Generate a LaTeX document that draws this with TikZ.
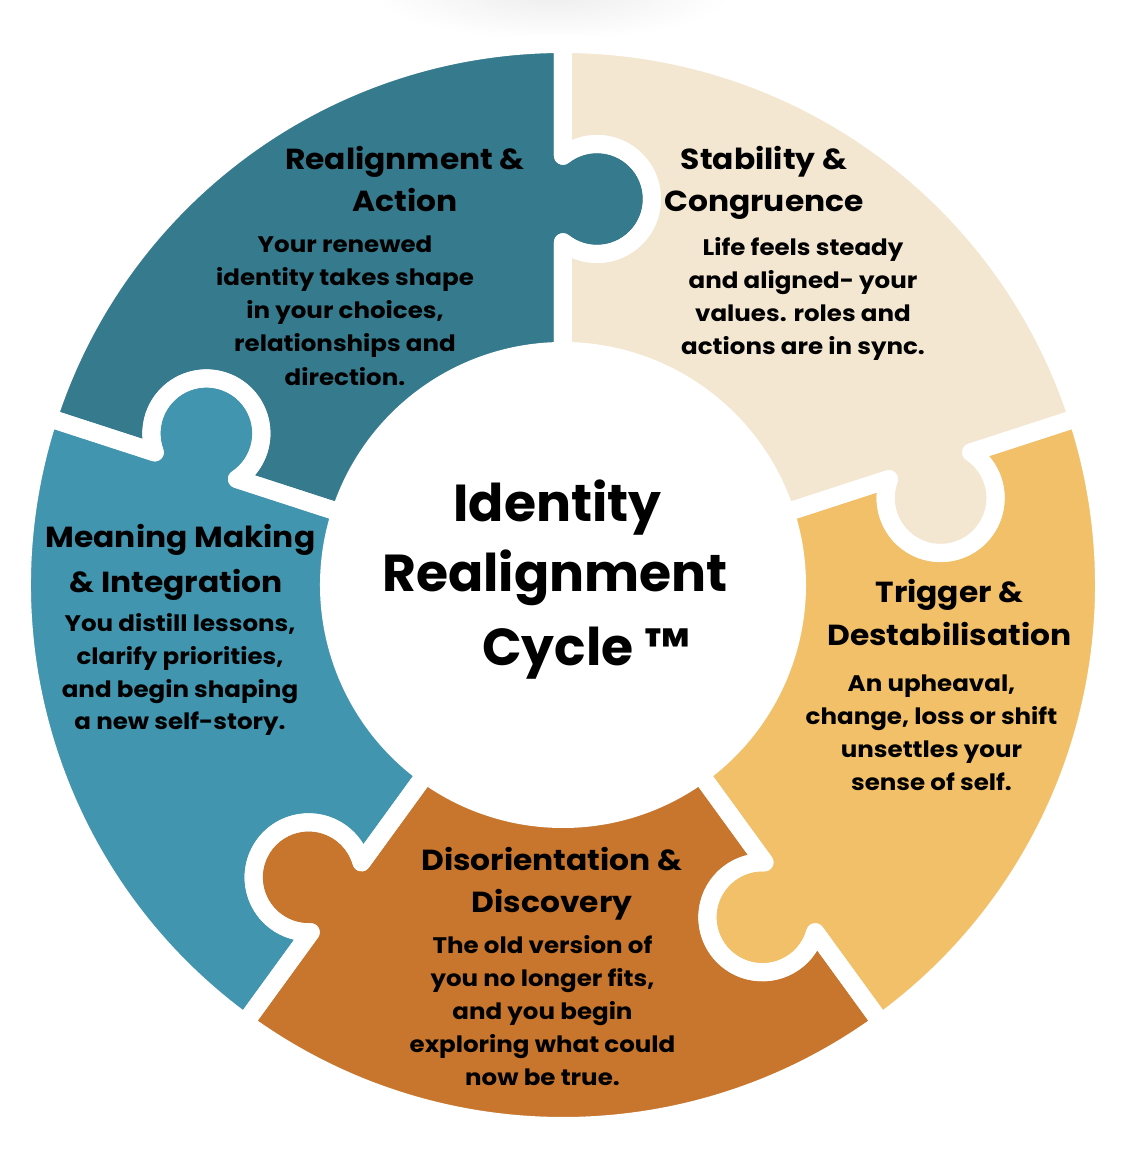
\documentclass[tikz,border=0pt]{standalone}
\usepackage{fontspec}
\setmainfont{Poppins}
\newfontfamily\headfont{Poppins}[FakeStretch=1.08]
\newfontfamily\bodyfont{Poppins}[FakeStretch=1.09]
\definecolor{cTeal}{HTML}{367A8E}
\definecolor{cBlue}{HTML}{4295AF}
\definecolor{cCream}{HTML}{F4E7D2}
\definecolor{cYellow}{HTML}{F3C06A}
\definecolor{cOrange}{HTML}{C8762D}
\def\ri{234}
\def\ro{541}
\def\rlo{342.77}
\def\rhi{429.23}
\def\Rk{55}
\newcommand\piecepath[1]{(#1:\ri) -- (#1:\rlo) arc[start angle=#1+141.82, end angle=#1+398.18, radius=\Rk] -- (#1:\ro) arc[start angle=#1, end angle=#1+72, radius=\ro] -- (#1+72:\rhi) arc[start angle=#1+110.18, end angle=#1-146.18, radius=\Rk] -- (#1+72:\ri) arc[start angle=#1+72, end angle=#1, radius=\ri] -- cycle}
\tikzset{
  pieceedge/.style={draw=white, line width=18pt, line join=round},
  head/.style={font=\headfont\bfseries\fontsize{29}{34}\selectfont, inner sep=0pt, anchor=base, text=black},
  body/.style={font=\bodyfont\bfseries\fontsize{22.5}{26}\selectfont, inner sep=0pt, anchor=base, text=black},
  bigtitle/.style={font=\bfseries\fontsize{52}{60}\selectfont, inner sep=0pt, anchor=base, text=black},
}
\begin{document}
\begin{tikzpicture}[x=1pt,y=1pt]
\useasboundingbox (-563,-583) rectangle (573,585);
\fill[white] (-563,-583) rectangle (573,585);
% soft shadow at top
\shade[inner color=black!7, outer color=white] (-10,592) ellipse [x radius=180, y radius=46];
% pieces
\fill[cOrange] \piecepath{-126};
\fill[cYellow] \piecepath{-54};
\fill[cCream] \piecepath{18};
\fill[cTeal] \piecepath{90};
\fill[cBlue] \piecepath{162};
\draw[pieceedge] \piecepath{-126};
\draw[pieceedge] \piecepath{-54};
\draw[pieceedge] \piecepath{18};
\draw[pieceedge] \piecepath{90};
\draw[pieceedge] \piecepath{162};
% centre title
\node[bigtitle] (c1) at (-5.5,64) {Identity};
\node[bigtitle] (c2) at (-8,-6) {Realignment};
\node[bigtitle] (c3) at (23.5,-80) {Cycle ™};
% Realignment & Action
\node[head] (ra1) at (-158,415) {Realignment \&};
\node[head] (ra2) at (-158,373) {Action};
\node[body] (rb1) at (-218,332) {Your renewed};
\node[body] (rb2) at (-218,299) {identity takes shape};
\node[body] (rb3) at (-218,266) {in your choices,};
\node[body] (rb4) at (-218,233) {relationships and};
\node[body] (rb5) at (-218,200) {direction.};
% Stability & Congruence
\node[head] (sa1) at (201,415) {Stability \&};
\node[head] (sa2) at (201,373) {Congruence};
\node[body] (sb1) at (240,329) {Life feels steady};
\node[body] (sb2) at (240,296) {and aligned- your};
\node[body] (sb3) at (240,263) {values. roles and};
\node[body] (sb4) at (240,230) {actions are in sync.};
% Trigger & Destabilisation
\node[head] (ta1) at (386.5,-17) {Trigger \&};
\node[head] (ta2) at (386.5,-60) {Destabilisation};
\node[body] (tb1) at (368.5,-106) {An upheaval,};
\node[body] (tb2) at (368.5,-139) {change, loss or shift};
\node[body] (tb3) at (368.5,-172) {unsettles your};
\node[body] (tb4) at (368.5,-205) {sense of self.};
% Disorientation & Discovery
\node[head] (da1) at (-11,-285) {Disorientation \&};
\node[head] (da2) at (-11,-327) {Discovery};
\node[body] (db1) at (-20.5,-368) {The old version of};
\node[body] (db2) at (-20.5,-401) {you no longer fits,};
\node[body] (db3) at (-20.5,-434) {and you begin};
\node[body] (db4) at (-20.5,-467) {exploring what could};
\node[body] (db5) at (-20.5,-500) {now be true.};
% Meaning Making & Integration
\node[head] (ma1) at (-382.5,38) {Meaning Making};
\node[head] (ma2) at (-387,-7) {\& Integration};
\node[body] (mb1) at (-383,-46) {You distill lessons,};
\node[body] (mb2) at (-383,-79) {clarify priorities,};
\node[body] (mb3) at (-383,-112) {and begin shaping};
\node[body] (mb4) at (-383,-144) {a new self-story.};
\end{tikzpicture}
\end{document}
